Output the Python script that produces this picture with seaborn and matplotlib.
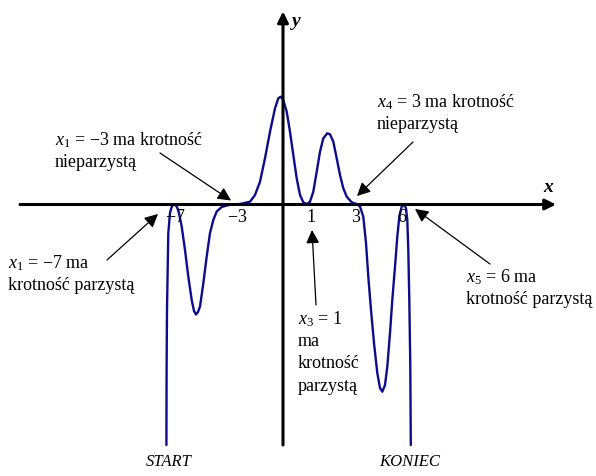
import matplotlib
matplotlib.use("Agg")
import matplotlib.pyplot as plt
import seaborn as sns
import pandas as pd

# curve (axis units: origin where the axes cross)
curve_x = [-11.66, -11.64, -11.6, -11.47, -11.3, -11.15, -10.97, -10.75, -10.47, -10.13, -9.8,
           -9.47, -9.13, -8.9, -8.7, -8.5, -8.3, -7.97, -7.63, -7.3, -6.97,
           -6.63, -6.13, -5.63, -5.1, -4.3, -3.3, -2.8, -2.3, -1.8, -1.3,
           -0.8, -0.47, -0.23, 0.03, 0.37, 0.7, 1.03, 1.37, 1.7, 2.03,
           2.37, 2.7, 3.03, 3.37, 3.7, 4.03, 4.43, 4.7, 5.03, 5.37,
           5.7, 6.03, 6.37, 6.87, 7.37, 7.7, 8.03, 8.3, 8.53, 8.8,
           9.1, 9.43, 9.7, 9.93, 10.2, 10.43, 10.7, 10.93, 11.2, 11.43,
           11.63, 11.87, 12.1, 12.3, 12.43, 12.53, 12.63, 12.73, 12.78]
curve_y = [-24.05, -16.5, -10.5, -2.85, -0.85, -0.3, 0.0, 0.0, -0.55, -2.2, -4.55,
           -7.2, -9.55, -10.65, -11.0, -10.75, -10.2, -7.9, -5.2, -2.85, -1.55,
           -0.7, -0.25, -0.1, 0.0, 0.05, 0.28, 0.95, 2.28, 4.62, 7.28,
           9.62, 10.62, 10.78, 10.45, 9.28, 7.28, 4.95, 2.62, 0.95, 0.22,
           0.05, 0.28, 1.28, 3.28, 5.28, 6.62, 7.12, 7.02, 6.28, 4.62,
           2.95, 1.62, 0.78, 0.22, 0.05, -0.2, -1.22, -3.85, -7.22, -10.55,
           -13.85, -16.85, -18.35, -18.72, -18.05, -16.22, -12.85, -9.55, -6.22, -3.22,
           -1.22, -0.22, 0.0, -0.38, -1.55, -4.55, -9.55, -16.22, -24.05]

tick_pos = [-10.8, -4.6, 2.75, 7.35, 11.95]
tick_labels = ["$-7$", "$-3$", "$1$", "$3$", "$6$"]

notes = [
    ["$x_1$ = $-3$ ma krotność", "nieparzystą"],
    ["$x_1$ = $-7$ ma", "krotność parzystą"],
    ["$x_4$ = 3 ma krotność", "nieparzystą"],
    ["$x_5$ = 6 ma", "krotność parzystą"],
    ["$x_3$ = 1", "ma", "krotność", "parzystą"],
]
note_xy = [(-22.8, 6.45), (-27.5, -5.85), (9.4, 10.25), (18.3, -7.25), (1.5, -11.45)]
arrow_from = [(-12.3, 5.15), (-17.6, -5.55), (13.0, 6.25), (20.7, -5.95), (3.3, -10.05)]
arrow_to = [(-5.2, 0.4), (-12.5, -0.95), (7.4, 0.85), (13.2, -0.45), (2.9, -2.55)]

sns.set_theme(style="white")
plt.rcParams["font.family"] = ["Liberation Serif", "DejaVu Serif"]
plt.rcParams["text.color"] = "black"
plt.rcParams["mathtext.fontset"] = "custom"
plt.rcParams["mathtext.rm"] = "Liberation Serif"
plt.rcParams["mathtext.it"] = "Liberation Serif:italic"
plt.rcParams["mathtext.bf"] = "Liberation Serif:bold"

fig = plt.figure(figsize=(5.96, 4.76), dpi=100)
ax = fig.add_axes([0, 0, 1, 1])
ax.set_xlim(-28.3, 31.3)
ax.set_ylim(-27.15, 20.45)
ax.axis("off")

# axes with arrows
ax.annotate("", xy=(27.3, 0), xytext=(-26.3, 0),
            arrowprops=dict(arrowstyle="-|>", lw=2.2, color="black", mutation_scale=16, shrinkA=0, shrinkB=0))
ax.annotate("", xy=(0, 19.3), xytext=(0, -24.05),
            arrowprops=dict(arrowstyle="-|>", lw=2.2, color="black", mutation_scale=16, shrinkA=0, shrinkB=0))
ax.text(26.5, 1.65, "x", fontsize=14, style="italic", weight="bold", ha="center", va="center")
ax.text(1.3, 18.25, "y", fontsize=14, style="italic", weight="bold", ha="center", va="center")

df = pd.DataFrame({"x": curve_x, "y": curve_y})
sns.lineplot(data=df, x="x", y="y", sort=False, estimator=None, color="#0c0c8c", lw=1.7, ax=ax)
ax.set_xlabel("")
ax.set_ylabel("")

for p, lab in zip(tick_pos, tick_labels):
    ax.text(p, -1.25, lab, fontsize=13, ha="center", va="center")

for lines, (tx, ty) in zip(notes, note_xy):
    for i, line in enumerate(lines):
        ax.text(tx, ty - i * 2.25, line, fontsize=13, ha="left", va="center")

for a, b in zip(arrow_from, arrow_to):
    ax.annotate("", xy=b, xytext=a,
                arrowprops=dict(arrowstyle="-|>", lw=0.9, color="black", mutation_scale=20, shrinkA=0, shrinkB=0))

ax.text(-11.4, -25.75, "START", fontsize=12, style="italic", ha="center", va="center")
ax.text(12.7, -25.75, "KONIEC", fontsize=12, style="italic", ha="center", va="center")

fig.savefig("out.png", dpi=100)
